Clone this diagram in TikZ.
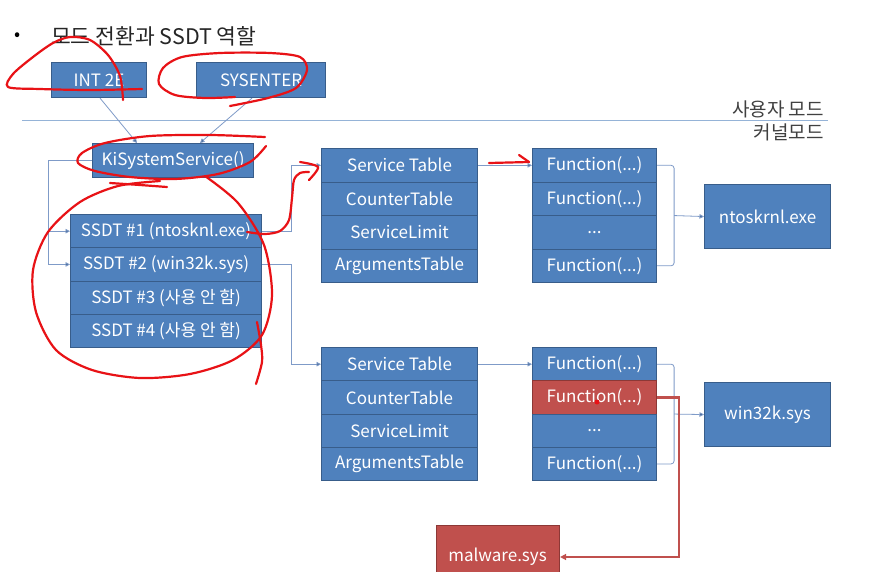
\documentclass[tikz,border=0pt]{standalone}
\usepackage{fontspec}
\setmainfont{Noto Sans CJK KR}
\newfontfamily\kfont{Noto Sans CJK KR}
\usetikzlibrary{arrows.meta,calc}
\definecolor{boxfill}{HTML}{4F81BD}
\definecolor{boxline}{HTML}{385D8A}
\definecolor{redfill}{HTML}{C0504D}
\definecolor{redline}{HTML}{8C3836}
\definecolor{conncol}{HTML}{7F9BC8}
\definecolor{scrib}{RGB}{232,18,22}
\definecolor{modeline}{HTML}{95B3D7}
\begin{document}
\begin{tikzpicture}[x=1pt,y=-1pt,
  bx/.style={draw=boxline, fill=boxfill, line width=1.1pt, text=white, inner sep=0pt,
    anchor=north west, font=\kfont\fontsize{17}{17}\selectfont},
  redbx/.style={bx, draw=redline, fill=redfill},
  conn/.style={draw=conncol, line width=0.8pt},
  arr/.style={conn, -{Triangle[length=4.5pt,width=4.5pt,fill=boxline]}},
  redarr/.style={draw=redfill, line width=2.2pt, -{Triangle[length=6pt,width=6pt]}},
  scribble/.style={draw=scrib, line width=2.2pt, line cap=round, line join=round},
  lbl/.style={text=black!75, inner sep=0pt, font=\kfont\fontsize{19}{19}\selectfont}
]
\fill[white] (0,0) rectangle (870,571);
\useasboundingbox (0,0) rectangle (870,571);

% title
\node[anchor=west, inner sep=0pt, font=\kfont\fontsize{18}{18}\selectfont] (bullet) at (14,37) {•};
\node[anchor=west, inner sep=0pt, font=\kfont\fontsize{21.5}{21.5}\selectfont, text=black!85] (title) at (51,36) {모드 전환과 SSDT 역할};

% mode line
\coordinate (ml1) at (22,120);
\coordinate (ml2) at (828,120);
\draw[modeline, line width=1pt] (ml1) -- (ml2);
\node[lbl, anchor=east] (umode) at (824,109) {사용자 모드};
\node[lbl, anchor=east] (kmode) at (824,132) {커널모드};

% top boxes
\node[bx, minimum width=95pt, minimum height=35pt] (int) at (51,62) {INT 2E};
\node[bx, minimum width=129pt, minimum height=35pt] (sys) at (196,62) {SYSENTER};
\node[bx, minimum width=161pt, minimum height=34pt] (ki) at (92,143) {KiSystemService()};

% SSDT
\node[bx, minimum width=191pt, minimum height=33.25pt] (s1) at (70,214) {SSDT \#1 (ntosknl.exe)};
\node[bx, minimum width=191pt, minimum height=33.25pt] (s2) at (70,247.25) {SSDT \#2 (win32k.sys)};
\node[bx, minimum width=191pt, minimum height=33.25pt] (s3) at (70,280.5) {SSDT \#3 (사용 안 함)};
\node[bx, minimum width=191pt, minimum height=33.25pt] (s4) at (70,313.75) {SSDT \#4 (사용 안 함)};

% service table 1
\node[bx, minimum width=156pt, minimum height=33.5pt] (ta1) at (321,148) {Service Table};
\node[bx, minimum width=156pt, minimum height=33.5pt] (tb1) at (321,181.5) {CounterTable};
\node[bx, minimum width=156pt, minimum height=33.5pt] (tc1) at (321,215) {ServiceLimit};
\node[bx, minimum width=156pt, minimum height=33.5pt] (td1) at (321,248.5) {ArgumentsTable};
% functions 1
\node[bx, minimum width=124pt, minimum height=33.5pt] (fa1) at (532,148) {Function(...)};
\node[bx, minimum width=124pt, minimum height=33.5pt] (fb1) at (532,181.5) {Function(...)};
\node[bx, minimum width=124pt, minimum height=33.5pt] (fc1) at (532,215) {...};
\node[bx, minimum width=124pt, minimum height=33.5pt] (fd1) at (532,248.5) {Function(...)};
\node[bx, minimum width=126pt, minimum height=64pt] (nt) at (704,184) {ntoskrnl.exe};

% service table 2
\node[bx, minimum width=156pt, minimum height=33.25pt] (ta2) at (321,347) {Service Table};
\node[bx, minimum width=156pt, minimum height=33.25pt] (tb2) at (321,380.25) {CounterTable};
\node[bx, minimum width=156pt, minimum height=33.25pt] (tc2) at (321,413.5) {ServiceLimit};
\node[bx, minimum width=156pt, minimum height=33.25pt] (td2) at (321,446.75) {ArgumentsTable};
% functions 2
\node[bx, minimum width=124pt, minimum height=33.25pt] (fa2) at (532,347) {Function(...)};
\node[redbx, minimum width=124pt, minimum height=33.25pt] (fb2) at (532,380.25) {Function(...)};
\node[bx, minimum width=124pt, minimum height=33.25pt] (fc2) at (532,413.5) {...};
\node[bx, minimum width=124pt, minimum height=33.25pt] (fd2) at (532,446.75) {Function(...)};
\node[bx, minimum width=126pt, minimum height=64pt] (w32) at (704,382) {win32k.sys};

% malware
\node[redbx, minimum width=123pt, minimum height=60pt] (mal) at (436,525) {};
\node[text=white, inner sep=0pt, font=\kfont\fontsize{17}{17}\selectfont] (maltxt) at (497.5,557) {malware.sys};

% connectors
\draw[arr] ($(int.south west)+(49,0)$) -- ($(ki.north west)+(45,0)$);
\draw[arr] ($(sys.south west)+(56,0)$) -- ($(ki.north west)+(108,0)$);
\draw[conn] (ki.west) -| ($(s1.west)+(-22,0)$) coordinate (b1);
\draw[arr] (b1) -- (s1.west);
\draw[arr] (ki.west) -| ($(s2.west)+(-22,0)$) -- (s2.west);
\draw[arr] (s1.east) -| ($(ta1.west)+(-30,0)$) -- (ta1.west);
\draw[arr] (s2.east) -| ($(ta2.west)+(-30,0)$) -- (ta2.west);
\draw[arr] (ta1.east) -- (fa1.west);
\draw[arr] (ta2.east) -- (fa2.west);

\draw[conn, rounded corners=3pt] (fa1.east) -- ++(17,0) |- (fd1.east);
\draw[arr] ($(fa1.east)!0.5!(fd1.east)+(17,0)$) -- (nt.west);
\draw[conn, rounded corners=3pt] (fa2.east) -- ++(17,0) |- (fd2.east);
\draw[arr] ($(fa2.east)!0.5!(fd2.east)+(17,0)$) -- (w32.west);

\draw[redarr] (fb2.east) -- ++(22,0) |- (maltxt.east -| mal.east);

% red dot
\fill[scrib] (597,402) circle (2.5pt);

% scribbles
\draw[scribble] plot[smooth] coordinates {(142,89) (90,90) (40,89) (8,87) (13,74) (33,57) (53,43) (70,37) (90,40) (108,55) (120,76) (123,100)};
\draw[scribble] plot[smooth] coordinates {(230,106) (268,98) (296,88) (307,70) (300,57) (270,53) (220,53) (182,57) (163,68) (159,84) (175,95) (205,98) (235,97)};
\draw[scribble] plot[smooth] coordinates {(265,137) (210,135) (150,136) (105,143) (82,153) (78,163) (95,171) (130,177) (175,179) (218,174) (250,162) (266,146)};
\draw[scribble] plot[smooth] coordinates {(110,183) (140,185) (167,187)};
\draw[scribble] plot[smooth] coordinates {(205,176) (238,203) (264,245) (272,295) (262,335) (233,360) (190,374) (140,378) (92,370) (56,350) (36,312) (33,270) (48,232) (80,202) (118,186) (160,181)};
\draw[scribble] plot[smooth] coordinates {(257,322) (261,345) (262,362) (256,384)};
\draw[scribble] plot[smooth] coordinates {(247,232) (265,234) (280,231) (289,220) (292,198) (294,180) (300,173) (309,172)};
\draw[scribble] plot[smooth] coordinates {(300,162) (318,167) (309,180)};
\draw[scribble] (489,163) -- (529,162);
\draw[scribble] (519,155) -- (529,162);
\end{tikzpicture}
\end{document}
